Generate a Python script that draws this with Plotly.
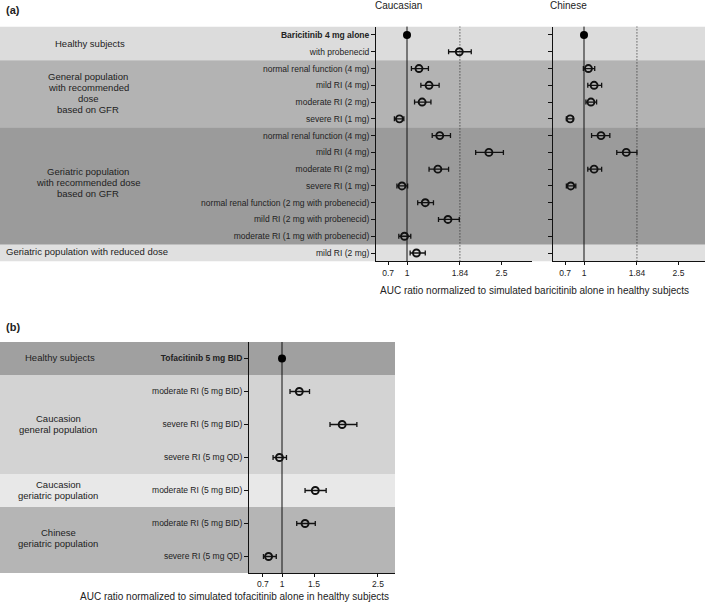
import plotly.graph_objects as go

W, H = 709, 612
FONT = "Arial, Liberation Sans, sans-serif"

# ---------------- data: panel (a) baricitinib ----------------
bari_rows = ["<b>Baricitinib 4 mg alone</b>", "with probenecid",
             "normal renal function (4 mg)", "mild RI (4 mg)", "moderate RI (2 mg)", "severe RI (1 mg)",
             "normal renal function (4 mg)", "mild RI (4 mg)", "moderate RI (2 mg)", "severe RI (1 mg)",
             "normal renal function (2 mg with probenecid)", "mild RI (2 mg with probenecid)",
             "moderate RI (1 mg with probenecid)", "mild RI (2 mg)"]
cau_mid = [1.00, 1.83, 1.19, 1.35, 1.24, 0.88, 1.52, 2.30, 1.49, 0.92, 1.29, 1.65, 0.96, 1.15]
cau_lo = [None, 1.66, 1.07, 1.22, 1.12, 0.80, 1.40, 2.09, 1.35, 0.84, 1.17, 1.50, 0.87, 1.05]
cau_hi = [None, 2.02, 1.34, 1.51, 1.38, 0.95, 1.69, 2.53, 1.66, 1.01, 1.42, 1.83, 1.06, 1.29]
chn_mid = [1.00, None, 1.07, 1.16, 1.11, 0.78, 1.27, 1.67, 1.16, 0.79, None, None, None, None]
chn_lo = [None, None, 0.99, 1.06, 1.03, 0.72, 1.12, 1.52, 1.06, 0.72, None, None, None, None]
chn_hi = [None, None, 1.17, 1.28, 1.20, 0.83, 1.41, 1.84, 1.28, 0.87, None, None, None, None]
bari_ticks = [0.7, 1, 1.84, 2.5]
bari_groups = ["Healthy subjects",
               "General population<br>with recommended<br>dose<br>based on GFR",
               "Geriatric population<br>with recommended dose<br>based on GFR",
               "Geriatric population with reduced dose"]
bari_group_rows = [(0, 1), (2, 5), (6, 12), (13, 13)]
bari_group_colors = ["#dcdcdc", "#b3b3b3", "#9b9b9b", "#e0e0e0"]

# ---------------- data: panel (b) tofacitinib ----------------
tofa_rows = ["<b>Tofacitinib 5 mg BID</b>", "moderate RI (5 mg BID)", "severe RI (5 mg BID)",
             "severe RI (5 mg QD)", "moderate RI (5 mg BID)", "moderate RI (5 mg BID)",
             "severe RI (5 mg QD)"]
tofa_mid = [1.00, 1.27, 1.94, 0.96, 1.52, 1.36, 0.79]
tofa_lo = [None, 1.125, 1.75, 0.86, 1.36, 1.23, 0.71]
tofa_hi = [None, 1.43, 2.17, 1.07, 1.69, 1.52, 0.91]
tofa_ticks = [0.7, 1, 1.5, 2.5]
tofa_groups = ["Healthy subjects", "Caucasion<br>general population",
               "Caucasion<br>geriatric population", "Chinese<br>geriatric population"]
tofa_group_rows = [(0, 0), (1, 3), (4, 4), (5, 6)]
tofa_group_colors = ["#a0a0a0", "#d3d3d3", "#e8e8e8", "#b5b5b5"]


def px(x):
    return x / W


def py(y):
    return 1 - y / H


fig = go.Figure()


def add_forest(mid, lo, hi, xa, ya):
    ref_x, ref_y, x, y, ep, em = [], [], [], [], [], []
    for i, m in enumerate(mid):
        if m is None:
            continue
        if lo[i] is None:
            ref_x.append(m)
            ref_y.append(i)
        else:
            x.append(m)
            y.append(i)
            ep.append(hi[i] - m)
            em.append(m - lo[i])
    fig.add_trace(go.Scatter(
        x=x, y=y, xaxis=xa, yaxis=ya, mode="markers",
        marker=dict(symbol="circle-open", size=7, color="#111", line=dict(width=1.9, color="#111")),
        error_x=dict(type="data", symmetric=False, array=ep, arrayminus=em,
                     color="#111", thickness=1.3, width=2.5),
        showlegend=False, hoverinfo="skip"))
    fig.add_trace(go.Scatter(
        x=ref_x, y=ref_y, xaxis=xa, yaxis=ya, mode="markers",
        marker=dict(symbol="circle", size=8, color="#000"),
        showlegend=False, hoverinfo="skip"))


add_forest(cau_mid, cau_lo, cau_hi, "x", "y")
add_forest(chn_mid, chn_lo, chn_hi, "x2", "y2")
add_forest(tofa_mid, tofa_lo, tofa_hi, "x3", "y3")

shapes = []
# bands
for (a, b), c in zip(bari_group_rows, bari_group_colors):
    shapes.append(dict(type="rect", xref="paper", yref="y", x0=0, x1=px(705),
                       y0=a - 0.5, y1=b + 0.5, fillcolor=c, line=dict(width=0), layer="below"))
for (a, b), c in zip(tofa_group_rows, tofa_group_colors):
    shapes.append(dict(type="rect", xref="paper", yref="y3", x0=0, x1=px(395),
                       y0=a - 0.5, y1=b + 0.5, fillcolor=c, line=dict(width=0), layer="below"))
# reference lines
for xr, yr in [("x", "y"), ("x2", "y2"), ("x3", "y3")]:
    shapes.append(dict(type="line", xref=xr, yref=yr + " domain", x0=1, x1=1, y0=0, y1=1,
                       line=dict(color="#111", width=1), layer="below"))
for xr, yr in [("x", "y"), ("x2", "y2")]:
    shapes.append(dict(type="line", xref=xr, yref=yr + " domain", x0=1.84, x1=1.84, y0=0, y1=1,
                       line=dict(color="#222", width=1, dash="1px,2px"), layer="below"))

annotations = []


def ann(text, x, y, size=9.5, xanchor="center", bold=False, spacing=11):
    lines = text.split("<br>")
    n = len(lines)
    for k, line in enumerate(lines):
        yy = y + (k - (n - 1) / 2) * spacing
        annotations.append(dict(text=("<b>%s</b>" % line) if bold else line, x=px(x), y=py(yy),
                                xref="paper", yref="paper", showarrow=False, xanchor=xanchor,
                                yanchor="middle",
                                font=dict(family=FONT, size=size, color="#222")))


ann("(a)", 4, 10, size=11, xanchor="left", bold=True)
ann("Caucasian", 398, 6, size=10)
ann("Chinese", 568, 6, size=10)
ann(bari_groups[0], 90, 44)
ann(bari_groups[1], 88, 93)
ann(bari_groups[2], 88, 182)
ann(bari_groups[3], 4, 251, xanchor="left")
ann("AUC ratio normalized to simulated baricitinib alone in healthy subjects", 534, 290, size=10)

ann("(b)", 4, 327, size=11, xanchor="left", bold=True)
ann(tofa_groups[0], 60, 357)
ann(tofa_groups[1], 58, 424)
ann(tofa_groups[2], 58, 490)
ann(tofa_groups[3], 58, 538)
ann("AUC ratio normalized to simulated tofacitinib alone in healthy subjects", 234, 596, size=10)

tickfont = dict(family=FONT, size=8.5, color="#222")
xcommon = dict(showline=True, linecolor="#111", linewidth=1, showgrid=False, zeroline=False,
               ticks="outside", ticklen=3, tickcolor="#111", tickfont=tickfont, mirror=False)
ycommon = dict(showline=True, linecolor="#111", linewidth=1, showgrid=False, zeroline=False,
               ticks="outside", ticklen=4, tickcolor="#111", tickfont=tickfont, mirror=False)

ya_dom = [py(261.4), py(26.6)]
fig.update_layout(
    width=W, height=H, margin=dict(l=0, r=0, t=0, b=0), autosize=False,
    paper_bgcolor="white", plot_bgcolor="rgba(0,0,0,0)",
    font=dict(family=FONT, color="#222"),
    shapes=shapes, annotations=annotations,
    xaxis=dict(domain=[px(376), px(532)], anchor="y", range=[0.508, 2.984],
               tickvals=bari_ticks, ticktext=[str(t) for t in bari_ticks], **xcommon),
    yaxis=dict(domain=ya_dom, anchor="x", range=[13.5, -0.5],
               tickvals=list(range(len(bari_rows))), ticktext=bari_rows, **ycommon),
    xaxis2=dict(domain=[px(553), px(705)], anchor="y2", range=[0.508, 2.92],
                tickvals=bari_ticks, ticktext=[str(t) for t in bari_ticks], **xcommon),
    yaxis2=dict(domain=ya_dom, anchor="x2", range=[13.5, -0.5],
                tickvals=list(range(len(bari_rows))), showticklabels=False, **ycommon),
    xaxis3=dict(domain=[px(249), px(395)], anchor="y3", range=[0.484, 2.766],
                tickvals=tofa_ticks, ticktext=[str(t) for t in tofa_ticks], **xcommon),
    yaxis3=dict(domain=[py(573), py(342)], anchor="x3", range=[6.5, -0.5],
                tickvals=list(range(len(tofa_rows))), ticktext=tofa_rows, **ycommon),
)

fig.write_html("out.html", config={"displayModeBar": False, "staticPlot": True},
               post_script="document.body.style.margin='0px';")
